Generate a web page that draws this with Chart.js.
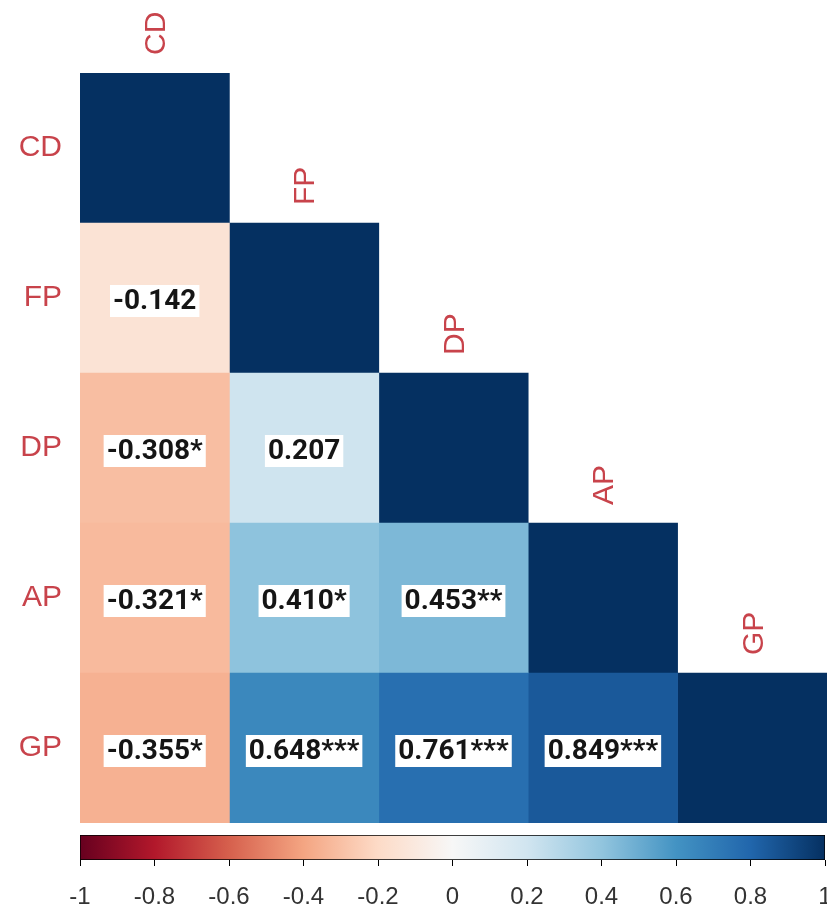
<!DOCTYPE html>
<html>
<head>
<meta charset="utf-8">
<script src="https://cdn.jsdelivr.net/npm/chart.js@4.4.1/dist/chart.umd.min.js"></script>
<style>
  html, body { margin: 0; padding: 0; background: #fff; }
  body { width: 827px; height: 911px; position: relative; overflow: hidden; }
  #heat { position: absolute; left: 0; top: 0; }
  #cbar { position: absolute; left: 0; top: 825px; }
</style>
</head>
<body>
<canvas id="heat" width="827" height="826"></canvas>
<canvas id="cbar" width="827" height="86"></canvas>
<script>
// variables (rows top->bottom, columns left->right)
const vars = ['CD', 'FP', 'DP', 'AP', 'GP'];

// correlation per column, one entry per row (null = upper triangle, left blank)
const corrCD = [1, -0.142, -0.308, -0.321, -0.355];
const corrFP = [null, 1, 0.207, 0.410, 0.648];
const corrDP = [null, null, 1, 0.453, 0.761];
const corrAP = [null, null, null, 1, 0.849];
const corrGP = [null, null, null, null, 1];

// significance stars per column
const starsCD = ['', '', '*', '*', '*'];
const starsFP = ['', '', '', '*', '***'];
const starsDP = ['', '', '', '**', '***'];
const starsAP = ['', '', '', '', '***'];
const starsGP = ['', '', '', '', ''];

// colour bar ticks
const barTicks = [-1, -0.8, -0.6, -0.4, -0.2, 0, 0.2, 0.4, 0.6, 0.8, 1];
const barTickLabels = ['-1', '-0.8', '-0.6', '-0.4', '-0.2', '0', '0.2', '0.4', '0.6', '0.8', '1'];

const columns = [corrCD, corrFP, corrDP, corrAP, corrGP];
const stars = [starsCD, starsFP, starsDP, starsAP, starsGP];

// RdBu palette, -1 .. 1
const rdbu = ['#67001F', '#B2182B', '#D6604D', '#F4A582', '#FDDBC7', '#F7F7F7',
              '#D1E5F0', '#92C5DE', '#4393C3', '#2166AC', '#053061'];

function hexRgb(h) {
    return [parseInt(h.slice(1, 3), 16), parseInt(h.slice(3, 5), 16), parseInt(h.slice(5, 7), 16)];
}

function corrColor(v) {
    const t = (v + 1) / 2 * (rdbu.length - 1);
    const i = Math.min(Math.floor(t), rdbu.length - 2);
    const f = t - i;
    const a = hexRgb(rdbu[i]), b = hexRgb(rdbu[i + 1]);
    const c = a.map((x, k) => Math.round(x + (b[k] - x) * f));
    return `rgb(${c[0]},${c[1]},${c[2]})`;
}

const labelRed = '#c8434b';

// one dataset per column, horizontal floating bars spanning the column
const datasets = columns.map((col, j) => ({
    label: vars[j],
    data: col.map(v => v === null ? null : [j - 0.5, j + 0.5]),
    backgroundColor: col.map(v => v === null ? 'rgba(0,0,0,0)' : corrColor(v)),
    borderWidth: 0,
    barPercentage: 1,
    categoryPercentage: 1,
    grouped: false
}));

// cell values + column names drawn over the bars
const cellText = {
    id: 'cellText',
    afterDatasetsDraw(chart) {
        const ctx = chart.ctx;
        const xs = chart.scales.x, ys = chart.scales.y;
        const band = (ys.bottom - ys.top) / vars.length;
        ctx.save();

        // column names, rotated, above each diagonal cell
        ctx.font = '30px "Liberation Sans", Arial, sans-serif';
        ctx.fillStyle = labelRed;
        ctx.textAlign = 'left';
        ctx.textBaseline = 'middle';
        vars.forEach((name, j) => {
            const x = xs.getPixelForValue(j) + 2;
            const top = ys.getPixelForValue(j) - band / 2;
            ctx.save();
            ctx.translate(x, top - 18);
            ctx.rotate(-Math.PI / 2);
            ctx.fillText(name, 0, 0);
            ctx.restore();
        });

        // correlation values with white boxes
        ctx.font = 'bold 28px Roboto, "DejaVu Sans", sans-serif';
        ctx.textAlign = 'center';
        columns.forEach((col, j) => {
            col.forEach((v, i) => {
                if (v === null || i === j) return;
                const txt = v.toFixed(3) + stars[j][i];
                const x = xs.getPixelForValue(j);
                const y = ys.getPixelForValue(i) + 3;
                const w = ctx.measureText(txt).width + 6;
                ctx.fillStyle = '#ffffff';
                ctx.fillRect(x - w / 2, y - 16, w, 32);
                ctx.fillStyle = '#151515';
                ctx.fillText(txt, x, y + 1);
            });
        });
        ctx.restore();
    }
};

new Chart(document.getElementById('heat'), {
    type: 'bar',
    data: { labels: vars, datasets: datasets },
    options: {
        indexAxis: 'y',
        responsive: false,
        animation: false,
        devicePixelRatio: 1,
        layout: { padding: { top: 73, bottom: 3, left: 0, right: 0 } },
        plugins: { legend: { display: false }, tooltip: { enabled: false } },
        scales: {
            x: { type: 'linear', min: -0.5, max: 4.5, display: false },
            y: {
                type: 'category',
                grid: { display: false, drawTicks: false },
                border: { display: false },
                ticks: {
                    color: labelRed,
                    padding: 18,
                    font: { family: '"Liberation Sans", Arial, sans-serif', size: 30 }
                },
                afterFit(scale) {
                    scale.width = 80;
                    scale.paddingTop = 0;
                    scale.paddingBottom = 0;
                }
            }
        }
    },
    plugins: [cellText]
});

// colour bar
new Chart(document.getElementById('cbar'), {
    type: 'bar',
    data: {
        labels: [''],
        datasets: [{
            data: [[barTicks[0], barTicks[barTicks.length - 1]]],
            backgroundColor(c) {
                const area = c.chart.chartArea;
                if (!area) return '#ccc';
                const xs = c.chart.scales.x;
                const g = c.chart.ctx.createLinearGradient(xs.getPixelForValue(-1), 0, xs.getPixelForValue(1), 0);
                rdbu.forEach((col, k) => g.addColorStop(k / (rdbu.length - 1), col));
                return g;
            },
            borderColor: '#000',
            borderWidth: 1,
            borderSkipped: false,
            barPercentage: 1,
            categoryPercentage: 1
        }]
    },
    options: {
        indexAxis: 'y',
        responsive: false,
        animation: false,
        devicePixelRatio: 1,
        layout: { padding: { top: 10, left: 80, right: 2, bottom: 0 } },
        plugins: { legend: { display: false }, tooltip: { enabled: false } },
        scales: {
            y: { display: false },
            x: {
                type: 'linear',
                min: -1,
                max: 1,
                grid: { drawOnChartArea: false, drawTicks: true, tickLength: 6, color: '#000' },
                border: { display: false },
                afterBuildTicks(scale) { scale.ticks = barTicks.map(v => ({ value: v })); },
                ticks: {
                    color: '#333',
                    padding: 17,
                    maxRotation: 0,
                    autoSkip: false,
                    font: { family: '"Liberation Sans", Arial, sans-serif', size: 24 },
                    callback(v, idx) { return barTickLabels[idx]; }
                },
                afterFit(scale) {
                    scale.height = 51;
                    scale.paddingLeft = 0;
                    scale.paddingRight = 0;
                }
            }
        }
    }
});
</script>
</body>
</html>
